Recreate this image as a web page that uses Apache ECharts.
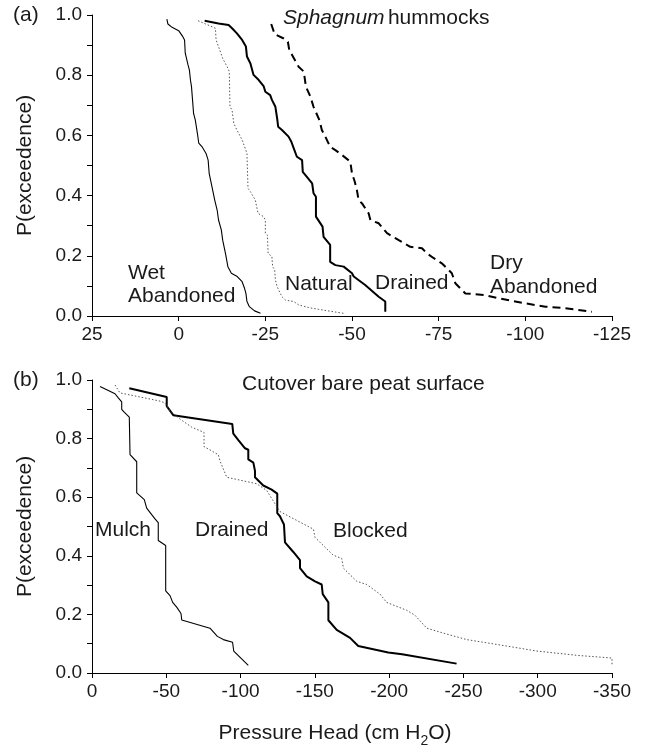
<!DOCTYPE html>
<html>
<head>
<meta charset="utf-8">
<script src="https://cdn.jsdelivr.net/npm/echarts@6/dist/echarts.min.js"></script>
<style>
html,body{margin:0;padding:0;background:#fff;}
#chart{width:646px;height:749px;}
</style>
</head>
<body>
<div id="chart"></div>
<script>
// Panel (a): Sphagnum hummocks  [pressure head (cm H2O), P(exceedence)]
var wetAbandonedA = [[3.4,0.986],[3.1,0.970],[1.9,0.959],[0,0.948],[-1.2,0.928],[-1.7,0.917],[-1.9,0.873],[-2.7,0.834],[-3.1,0.817],[-3.4,0.784],[-3.7,0.762],[-4.0,0.718],[-4.3,0.673],[-4.8,0.651],[-5.4,0.607],[-5.8,0.574],[-6.7,0.563],[-7.9,0.540],[-8.5,0.518],[-8.8,0.474],[-9.6,0.430],[-10.4,0.385],[-11.1,0.352],[-11.5,0.319],[-12.3,0.286],[-12.7,0.252],[-13.5,0.208],[-14.2,0.164],[-15.2,0.142],[-15.6,0.136],[-16.9,0.131],[-18.3,0.114],[-19.0,0.092],[-19.4,0.075],[-19.7,0.048],[-20.4,0.031],[-21.9,0.017],[-23.6,0.009]];
var naturalA = [[-5.6,0.981],[-10.6,0.956],[-10.8,0.917],[-11.5,0.895],[-12.7,0.856],[-14.2,0.823],[-14.6,0.812],[-14.8,0.695],[-15.4,0.684],[-15.9,0.640],[-16.8,0.618],[-18.3,0.585],[-19.0,0.563],[-19.7,0.540],[-20.0,0.424],[-20.7,0.413],[-22.1,0.385],[-22.9,0.341],[-24.5,0.330],[-25.0,0.319],[-25.0,0.275],[-25.6,0.269],[-25.8,0.208],[-26.9,0.197],[-27.1,0.164],[-27.7,0.153],[-27.9,0.120],[-28.4,0.097],[-29.8,0.064],[-30.8,0.053],[-33.2,0.048],[-34.6,0.037],[-37.5,0.028],[-40.4,0.022],[-48.1,0.008]];
var drainedA = [[-7.5,0.981],[-11.5,0.972],[-14.4,0.967],[-15.4,0.956],[-16.8,0.939],[-18.3,0.917],[-19.4,0.895],[-19.7,0.862],[-20.7,0.839],[-21.6,0.801],[-23.1,0.784],[-24.5,0.764],[-25.0,0.745],[-26.4,0.734],[-26.9,0.718],[-27.9,0.695],[-28.4,0.657],[-28.7,0.629],[-29.8,0.618],[-31.7,0.596],[-32.5,0.579],[-33.2,0.557],[-34.1,0.529],[-35.6,0.518],[-35.8,0.479],[-38.5,0.441],[-38.9,0.408],[-39.6,0.396],[-39.6,0.330],[-41.5,0.297],[-41.8,0.263],[-43.7,0.236],[-43.7,0.180],[-45.2,0.169],[-47.6,0.164],[-50.0,0.142],[-50.5,0.131],[-53.8,0.103],[-57.7,0.064],[-59.6,0.048],[-59.6,0.014]];
var dryAbandonedA = [[-26.7,0.970],[-27.7,0.936],[-30.3,0.922],[-31.5,0.911],[-31.9,0.884],[-34.6,0.828],[-36.1,0.812],[-36.7,0.762],[-38.0,0.729],[-38.9,0.695],[-40.6,0.651],[-41.3,0.618],[-42.3,0.596],[-43.7,0.562],[-45.2,0.551],[-47.1,0.535],[-49.5,0.513],[-50.0,0.474],[-50.8,0.446],[-51.4,0.419],[-51.9,0.385],[-52.9,0.374],[-54.8,0.341],[-55.3,0.319],[-57.7,0.308],[-60.1,0.275],[-63.5,0.252],[-66.8,0.230],[-70.2,0.225],[-71.6,0.208],[-73.6,0.192],[-75.9,0.175],[-78.8,0.142],[-79.8,0.109],[-82.7,0.075],[-88.0,0.070],[-92.3,0.059],[-100.0,0.042],[-105.8,0.031],[-111.5,0.026],[-119.2,0.014]];

// Panel (b): Cutover bare peat surface
var mulchB = [[-5.4,0.978],[-15.5,0.953],[-17.7,0.939],[-20.0,0.925],[-20.0,0.900],[-21.5,0.891],[-25.1,0.873],[-25.6,0.745],[-30.1,0.721],[-30.1,0.615],[-35.2,0.592],[-36.8,0.563],[-42.4,0.526],[-44.6,0.513],[-44.6,0.452],[-49.6,0.435],[-49.6,0.280],[-52.5,0.264],[-54.3,0.241],[-57.0,0.225],[-59.9,0.203],[-60.4,0.181],[-79.4,0.153],[-84.4,0.125],[-88.4,0.114],[-94.6,0.105],[-95.4,0.075],[-105.2,0.026]];
var drainedB = [[-25.1,0.972],[-50.3,0.942],[-50.3,0.911],[-54.7,0.880],[-94.4,0.850],[-95.1,0.817],[-98.5,0.795],[-103.0,0.767],[-105.2,0.762],[-105.2,0.729],[-108.6,0.718],[-109.7,0.690],[-109.7,0.668],[-115.3,0.640],[-120.9,0.626],[-124.7,0.612],[-124.7,0.546],[-126.5,0.535],[-129.2,0.507],[-129.9,0.446],[-135.5,0.413],[-140.0,0.385],[-140.0,0.358],[-144.5,0.330],[-150.1,0.313],[-154.6,0.302],[-155.3,0.269],[-159.1,0.241],[-159.1,0.180],[-164.7,0.147],[-173.7,0.120],[-179.2,0.092],[-199.4,0.070],[-208.7,0.064],[-245.4,0.032]];
var blockedB = [[-15.5,0.983],[-18.8,0.956],[-45.8,0.928],[-49.1,0.922],[-52.5,0.895],[-59.2,0.867],[-67.1,0.839],[-75.4,0.821],[-75.4,0.773],[-85.0,0.745],[-86.2,0.723],[-90.7,0.668],[-110.8,0.646],[-117.6,0.623],[-126.5,0.551],[-149.0,0.491],[-150.1,0.463],[-155.7,0.435],[-162.4,0.402],[-168.1,0.391],[-169.2,0.358],[-178.2,0.313],[-184.9,0.302],[-193.9,0.269],[-198.3,0.241],[-211.8,0.214],[-217.4,0.197],[-225.3,0.153],[-236.5,0.136],[-252.2,0.114],[-265.7,0.103],[-279.1,0.092],[-299.3,0.075],[-327,0.060],[-350,0.051],[-350,0.029]];

// Axis ranges / tick settings
var xRangeA = {min: -125, max: 25, interval: 25};
var xRangeB = {min: -350, max: 0, interval: 50};
var yRange = {min: 0, max: 1, interval: 0.1};

var FONT = '"Liberation Sans", Arial, Helvetica, sans-serif';
var FS = 19;   // tick labels
var FT = 21;   // annotations / axis names
var TXT = '#1a1a1a';

function xAxisCfg(idx, r, extra) {
  var o = {
    type: 'value', gridIndex: idx, inverse: true,
    min: r.min, max: r.max, interval: r.interval,
    axisLine: {show: true, onZero: false, lineStyle: {color: '#000', width: 1}},
    axisTick: {show: true, inside: false, length: 5, lineStyle: {color: '#000'}},
    axisLabel: {color: TXT, fontFamily: FONT, fontSize: FS, margin: 9},
    splitLine: {show: false}
  };
  for (var k in extra) o[k] = extra[k];
  return o;
}
function yAxisCfg(idx) {
  return {
    type: 'value', gridIndex: idx,
    min: yRange.min, max: yRange.max, interval: yRange.interval,
    axisLine: {show: true, onZero: false, lineStyle: {color: '#000', width: 1}},
    axisTick: {show: true, inside: false, length: 5, lineStyle: {color: '#000'}},
    axisLabel: {
      color: TXT, fontFamily: FONT, fontSize: FS, margin: 10,
      formatter: function (v) { return (Math.round(v * 10) % 2 === 0) ? v.toFixed(1) : ''; }
    },
    splitLine: {show: false},
    name: 'P(exceedence)', nameLocation: 'middle', nameRotate: 90, nameGap: 56,
    nameTextStyle: {color: TXT, fontFamily: FONT, fontSize: FT}
  };
}
function line(name, data, xi, style) {
  return {
    name: name, type: 'line', xAxisIndex: xi, yAxisIndex: xi, data: data,
    showSymbol: false, symbol: 'none', smooth: false, animation: false,
    lineStyle: style, z: 3
  };
}
function label(text, x, y) {
  return {type: 'text', x: x, y: y, style: {text: text, font: FT + 'px ' + FONT, fill: TXT, textVerticalAlign: 'middle'}};
}

var chart = echarts.init(document.getElementById('chart'), null, {renderer: 'canvas'});
chart.setOption({
  backgroundColor: '#fff',
  animation: false,
  grid: [
    {left: 92, top: 15, width: 520, height: 301},
    {left: 92, top: 380, width: 520, height: 301}
  ],
  xAxis: [
    xAxisCfg(0, xRangeA, {}),
    xAxisCfg(1, xRangeB, {
      name: '{a|Pressure Head (cm H}{s|2}{a|O)}', nameLocation: 'middle', nameGap: 45,
      nameTextStyle: {
        padding: [0, 34, 0, 0],
        rich: {
          a: {fontFamily: FONT, fontSize: FT, color: TXT, lineHeight: 30, verticalAlign: 'middle'},
          s: {fontFamily: FONT, fontSize: 14, color: TXT, lineHeight: 14, verticalAlign: 'bottom'}
        }
      }
    })
  ],
  yAxis: [yAxisCfg(0), yAxisCfg(1)],
  series: [
    line('Wet Abandoned', wetAbandonedA, 0, {color: '#000', width: 1.1, type: 'solid'}),
    line('Natural', naturalA, 0, {color: '#555', width: 1, type: [1.5, 2]}),
    line('Drained', drainedA, 0, {color: '#000', width: 2, type: 'solid'}),
    line('Dry Abandoned', dryAbandonedA, 0, {color: '#000', width: 2, type: [8, 5]}),
    line('Mulch', mulchB, 1, {color: '#000', width: 1.1, type: 'solid'}),
    line('Drained', drainedB, 1, {color: '#000', width: 2, type: 'solid'}),
    line('Blocked', blockedB, 1, {color: '#555', width: 1, type: [1.5, 2]})
  ],
  graphic: [
    label('(a)', 13, 15),
    label('(b)', 13, 380),
    {type: 'text', x: 283, y: 18, style: {
      text: '{i|Sphagnum} {n|hummocks}', textVerticalAlign: 'middle',
      rich: {
        i: {fontFamily: FONT, fontSize: FT, fontStyle: 'italic', fill: TXT},
        n: {fontFamily: FONT, fontSize: FT, fill: TXT}
      }
    }},
    label('Cutover bare peat surface', 242, 384),
    label('Wet', 128, 273),
    label('Abandoned', 128, 296),
    label('Natural', 285, 284),
    label('Drained', 375, 283),
    label('Dry', 490, 263),
    label('Abandoned', 490, 287),
    label('Mulch', 95, 530),
    label('Drained', 195, 530),
    label('Blocked', 333, 531)
  ]
});
</script>
</body>
</html>
